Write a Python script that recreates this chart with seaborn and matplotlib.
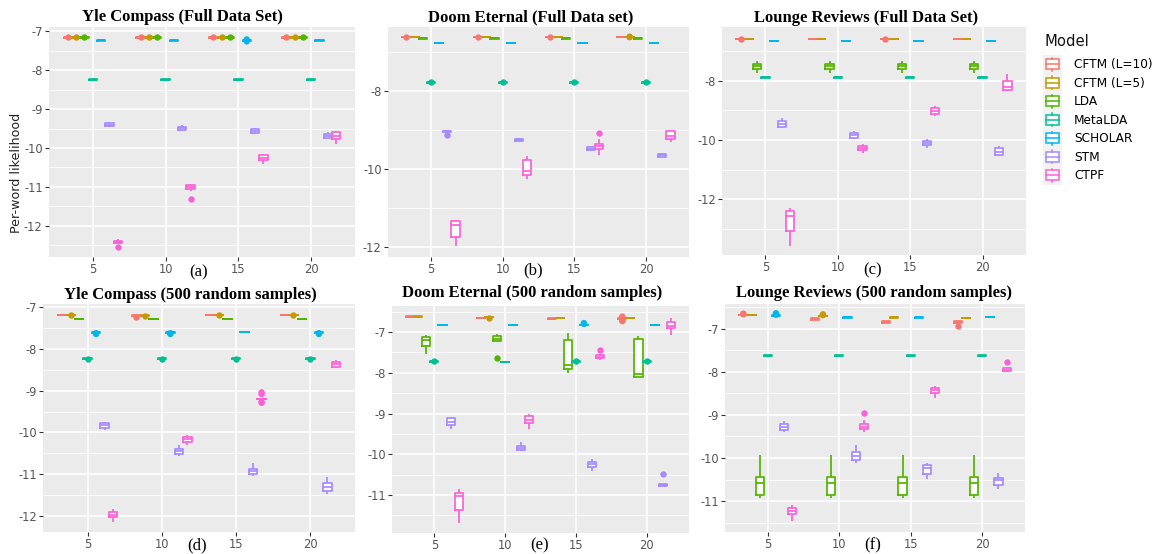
import numpy as np
import pandas as pd
import matplotlib
matplotlib.use("Agg")
import matplotlib.pyplot as plt
import seaborn as sns
from matplotlib.patches import Rectangle, Patch
from matplotlib.lines import Line2D
from matplotlib.legend_handler import HandlerBase
from matplotlib.ticker import FixedLocator, NullLocator

MODELS = ["CFTM (L=10)", "CFTM (L=5)", "LDA", "MetaLDA", "SCHOLAR", "STM", "CTPF"]
COLORS = ["#F8766D", "#C49A00", "#53B400", "#00C094", "#00B6EB", "#A58AFF", "#FB61D7"]
TOPICS = [5, 10, 15, 20]
TITLES = ["Yle Compass (Full Data Set)", "Doom Eternal (Full Data set)", "Lounge Reviews (Full Data Set)",
          "Yle Compass (500 random samples)", "Doom Eternal (500 random samples)", "Lounge Reviews (500 random samples)"]
SUBCAPS = ["(a)", "(b)", "(c)", "(d)", "(e)", "(f)"]
YLABEL = "Per-word likelihood"

# rows: (model index, number of topics, lower whisker, q1, median, q3, upper whisker)
YLE_FULL = [
    (0, 5, -7.165, -7.16, -7.15, -7.14, -7.135), (1, 5, -7.165, -7.16, -7.15, -7.14, -7.135),
    (2, 5, -7.165, -7.16, -7.15, -7.14, -7.135), (3, 5, -8.255, -8.25, -8.24, -8.23, -8.225),
    (4, 5, -7.245, -7.24, -7.23, -7.22, -7.215), (5, 5, -9.46, -9.44, -9.40, -9.36, -9.33),
    (6, 5, -12.46, -12.44, -12.42, -12.38, -12.35),
    (0, 10, -7.165, -7.16, -7.15, -7.14, -7.135), (1, 10, -7.165, -7.16, -7.15, -7.14, -7.135),
    (2, 10, -7.165, -7.16, -7.15, -7.14, -7.135), (3, 10, -8.255, -8.25, -8.24, -8.23, -8.225),
    (4, 10, -7.245, -7.24, -7.23, -7.22, -7.215), (5, 10, -9.55, -9.53, -9.49, -9.45, -9.40),
    (6, 10, -11.11, -11.05, -11.00, -10.96, -10.92),
    (0, 15, -7.165, -7.16, -7.15, -7.14, -7.135), (1, 15, -7.165, -7.16, -7.15, -7.14, -7.135),
    (2, 15, -7.165, -7.16, -7.15, -7.14, -7.135), (3, 15, -8.255, -8.25, -8.24, -8.23, -8.225),
    (4, 15, -7.25, -7.245, -7.235, -7.225, -7.22), (5, 15, -9.63, -9.61, -9.57, -9.52, -9.48),
    (6, 15, -10.42, -10.30, -10.25, -10.19, -10.15),
    (0, 20, -7.165, -7.16, -7.15, -7.14, -7.135), (1, 20, -7.165, -7.16, -7.15, -7.14, -7.135),
    (2, 20, -7.165, -7.16, -7.15, -7.14, -7.135), (3, 20, -8.255, -8.25, -8.24, -8.23, -8.225),
    (4, 20, -7.245, -7.24, -7.23, -7.22, -7.215), (5, 20, -9.74, -9.73, -9.68, -9.63, -9.59),
    (6, 20, -9.89, -9.77, -9.70, -9.60, -9.55),
]
YLE_FULL_OUT = [
    (0, 5, -7.15), (1, 5, -7.15), (2, 5, -7.15), (6, 5, -12.54),
    (0, 10, -7.15), (1, 10, -7.15), (2, 10, -7.15), (6, 10, -11.30),
    (0, 15, -7.15), (1, 15, -7.15), (2, 15, -7.15), (4, 15, -7.26), (4, 15, -7.21),
    (0, 20, -7.15), (1, 20, -7.15), (2, 20, -7.15),
]

DOOM_FULL = [
    (0, 5, -6.63, -6.625, -6.62, -6.615, -6.61), (1, 5, -6.64, -6.635, -6.63, -6.625, -6.62),
    (2, 5, -6.67, -6.665, -6.66, -6.655, -6.65), (3, 5, -7.80, -7.795, -7.79, -7.785, -7.78),
    (4, 5, -6.79, -6.785, -6.78, -6.775, -6.77), (5, 5, -9.06, -9.05, -9.04, -9.03, -9.02),
    (6, 5, -11.97, -11.76, -11.44, -11.35, -11.31),
    (0, 10, -6.63, -6.625, -6.62, -6.615, -6.61), (1, 10, -6.64, -6.635, -6.63, -6.625, -6.62),
    (2, 10, -6.67, -6.665, -6.66, -6.655, -6.65), (3, 10, -7.80, -7.795, -7.79, -7.785, -7.78),
    (4, 10, -6.79, -6.785, -6.78, -6.775, -6.77), (5, 10, -9.29, -9.28, -9.26, -9.24, -9.22),
    (6, 10, -10.26, -10.17, -10.05, -9.78, -9.67),
    (0, 15, -6.63, -6.625, -6.62, -6.615, -6.61), (1, 15, -6.64, -6.635, -6.63, -6.625, -6.62),
    (2, 15, -6.67, -6.665, -6.66, -6.655, -6.65), (3, 15, -7.80, -7.795, -7.79, -7.785, -7.78),
    (4, 15, -6.79, -6.785, -6.78, -6.775, -6.77), (5, 15, -9.54, -9.53, -9.50, -9.45, -9.44),
    (6, 15, -9.64, -9.49, -9.43, -9.36, -9.24),
    (0, 20, -6.63, -6.625, -6.62, -6.615, -6.61), (1, 20, -6.64, -6.635, -6.63, -6.625, -6.62),
    (2, 20, -6.67, -6.665, -6.66, -6.655, -6.65), (3, 20, -7.80, -7.795, -7.79, -7.785, -7.78),
    (4, 20, -6.79, -6.785, -6.78, -6.775, -6.77), (5, 20, -9.71, -9.70, -9.66, -9.62, -9.60),
    (6, 20, -9.32, -9.24, -9.15, -9.04, -9.03),
]
DOOM_FULL_OUT = [
    (0, 5, -6.62), (3, 5, -7.79), (5, 5, -9.13),
    (0, 10, -6.62), (3, 10, -7.79),
    (0, 15, -6.62), (3, 15, -7.79), (6, 15, -9.09),
    (1, 20, -6.62), (1, 20, -6.63), (3, 20, -7.79),
]

LOUNGE_FULL = [
    (0, 5, -6.60, -6.595, -6.59, -6.585, -6.58), (1, 5, -6.61, -6.605, -6.60, -6.595, -6.59),
    (2, 5, -7.74, -7.59, -7.50, -7.43, -7.35), (3, 5, -7.90, -7.895, -7.89, -7.885, -7.88),
    (4, 5, -6.67, -6.665, -6.66, -6.655, -6.65), (5, 5, -9.60, -9.55, -9.45, -9.35, -9.27),
    (6, 5, -13.57, -13.07, -12.55, -12.39, -12.30),
    (0, 10, -6.60, -6.595, -6.59, -6.585, -6.58), (1, 10, -6.61, -6.605, -6.60, -6.595, -6.59),
    (2, 10, -7.74, -7.59, -7.50, -7.43, -7.35), (3, 10, -7.90, -7.895, -7.89, -7.885, -7.88),
    (4, 10, -6.67, -6.665, -6.66, -6.655, -6.65), (5, 10, -9.97, -9.92, -9.83, -9.75, -9.69),
    (6, 10, -10.45, -10.35, -10.28, -10.20, -10.13),
    (0, 15, -6.60, -6.595, -6.59, -6.585, -6.58), (1, 15, -6.61, -6.605, -6.60, -6.595, -6.59),
    (2, 15, -7.74, -7.59, -7.50, -7.43, -7.35), (3, 15, -7.90, -7.895, -7.89, -7.885, -7.88),
    (4, 15, -6.67, -6.665, -6.66, -6.655, -6.65), (5, 15, -10.28, -10.17, -10.11, -10.03, -9.98),
    (6, 15, -9.18, -9.12, -9.01, -8.92, -8.85),
    (0, 20, -6.60, -6.595, -6.59, -6.585, -6.58), (1, 20, -6.61, -6.605, -6.60, -6.595, -6.59),
    (2, 20, -7.74, -7.59, -7.50, -7.43, -7.35), (3, 20, -7.90, -7.895, -7.89, -7.885, -7.88),
    (4, 20, -6.67, -6.665, -6.66, -6.655, -6.65), (5, 20, -10.54, -10.50, -10.39, -10.28, -10.22),
    (6, 20, -8.36, -8.30, -8.21, -8.00, -7.76),
]
LOUNGE_FULL_OUT = [(0, 5, -6.59), (0, 15, -6.59)]

YLE_500 = [
    (0, 5, -7.19, -7.185, -7.18, -7.175, -7.17), (1, 5, -7.19, -7.185, -7.18, -7.175, -7.17),
    (2, 5, -7.29, -7.285, -7.28, -7.275, -7.27), (3, 5, -8.24, -8.235, -8.23, -8.225, -8.22),
    (4, 5, -7.61, -7.605, -7.60, -7.595, -7.59), (5, 5, -9.94, -9.89, -9.83, -9.78, -9.74),
    (6, 5, -12.16, -12.02, -11.98, -11.92, -11.85),
    (0, 10, -7.21, -7.205, -7.20, -7.195, -7.19), (1, 10, -7.21, -7.205, -7.20, -7.195, -7.19),
    (2, 10, -7.29, -7.285, -7.28, -7.275, -7.27), (3, 10, -8.24, -8.235, -8.23, -8.225, -8.22),
    (4, 10, -7.61, -7.605, -7.60, -7.595, -7.59), (5, 10, -10.56, -10.51, -10.44, -10.39, -10.31),
    (6, 10, -10.31, -10.22, -10.17, -10.10, -10.07),
    (0, 15, -7.19, -7.185, -7.18, -7.175, -7.17), (1, 15, -7.19, -7.185, -7.18, -7.175, -7.17),
    (2, 15, -7.29, -7.285, -7.28, -7.275, -7.27), (3, 15, -8.24, -8.235, -8.23, -8.225, -8.22),
    (4, 15, -7.60, -7.595, -7.59, -7.585, -7.58), (5, 15, -11.04, -11.00, -10.92, -10.87, -10.73),
    (6, 15, -9.22, -9.21, -9.20, -9.19, -9.18),
    (0, 20, -7.19, -7.185, -7.18, -7.175, -7.17), (1, 20, -7.19, -7.185, -7.18, -7.175, -7.17),
    (2, 20, -7.29, -7.285, -7.28, -7.275, -7.27), (3, 20, -8.24, -8.235, -8.23, -8.225, -8.22),
    (4, 20, -7.61, -7.605, -7.60, -7.595, -7.59), (5, 20, -11.48, -11.41, -11.31, -11.21, -11.08),
    (6, 20, -8.46, -8.44, -8.36, -8.30, -8.26),
]
YLE_500_OUT = [
    (1, 5, -7.18), (3, 5, -8.23), (4, 5, -7.62), (4, 5, -7.64),
    (0, 10, -7.23), (1, 10, -7.20), (3, 10, -8.23), (4, 10, -7.62), (4, 10, -7.64),
    (1, 15, -7.18), (3, 15, -8.23), (6, 15, -9.04), (6, 15, -9.08), (6, 15, -9.27), (6, 15, -9.29),
    (1, 20, -7.18), (3, 20, -8.23), (4, 20, -7.62), (4, 20, -7.64),
]

DOOM_500 = [
    (0, 5, -6.63, -6.625, -6.62, -6.615, -6.61), (1, 5, -6.63, -6.625, -6.62, -6.615, -6.61),
    (2, 5, -7.54, -7.35, -7.20, -7.13, -7.08), (3, 5, -7.73, -7.725, -7.72, -7.715, -7.71),
    (4, 5, -6.83, -6.825, -6.82, -6.815, -6.81), (5, 5, -9.38, -9.29, -9.20, -9.12, -9.09),
    (6, 5, -11.69, -11.36, -11.02, -10.96, -10.84),
    (0, 10, -6.66, -6.655, -6.65, -6.645, -6.64), (1, 10, -6.64, -6.635, -6.63, -6.625, -6.62),
    (2, 10, -7.24, -7.22, -7.16, -7.09, -7.04), (3, 10, -7.74, -7.735, -7.73, -7.725, -7.72),
    (4, 10, -6.83, -6.825, -6.82, -6.815, -6.81), (5, 10, -9.93, -9.90, -9.84, -9.79, -9.70),
    (6, 10, -9.37, -9.24, -9.16, -9.07, -9.01),
    (0, 15, -6.68, -6.675, -6.67, -6.665, -6.66), (1, 15, -6.67, -6.665, -6.66, -6.655, -6.65),
    (2, 15, -8.00, -7.90, -7.81, -7.20, -7.03), (3, 15, -7.73, -7.725, -7.72, -7.715, -7.71),
    (4, 15, -6.83, -6.825, -6.82, -6.815, -6.81), (5, 15, -10.40, -10.31, -10.24, -10.18, -10.12),
    (6, 15, -7.68, -7.64, -7.60, -7.56, -7.54),
    (0, 20, -6.68, -6.675, -6.67, -6.665, -6.66), (1, 20, -6.67, -6.665, -6.66, -6.655, -6.65),
    (2, 20, -8.10, -8.09, -8.03, -7.17, -7.10), (3, 20, -7.73, -7.725, -7.72, -7.715, -7.71),
    (4, 20, -6.83, -6.825, -6.82, -6.815, -6.81), (5, 20, -10.78, -10.77, -10.75, -10.73, -10.72),
    (6, 20, -7.06, -6.91, -6.84, -6.76, -6.65),
]
DOOM_500_OUT = [
    (3, 5, -7.72),
    (1, 10, -6.66), (2, 10, -7.64),
    (3, 15, -7.72), (4, 15, -6.80), (4, 15, -6.78), (6, 15, -7.43),
    (0, 20, -6.62), (0, 20, -6.64), (0, 20, -6.71), (0, 20, -6.73), (3, 20, -7.72), (5, 20, -10.49),
]

LOUNGE_500 = [
    (0, 5, -6.69, -6.685, -6.68, -6.675, -6.67), (1, 5, -6.68, -6.675, -6.67, -6.665, -6.66),
    (2, 5, -10.93, -10.87, -10.59, -10.44, -9.93), (3, 5, -7.63, -7.625, -7.62, -7.615, -7.61),
    (4, 5, -6.70, -6.695, -6.69, -6.685, -6.68), (5, 5, -9.40, -9.35, -9.27, -9.21, -9.13),
    (6, 5, -11.46, -11.31, -11.23, -11.16, -11.10),
    (0, 10, -6.79, -6.785, -6.77, -6.755, -6.75), (1, 10, -6.71, -6.705, -6.70, -6.695, -6.69),
    (2, 10, -10.93, -10.87, -10.59, -10.44, -9.93), (3, 10, -7.63, -7.625, -7.62, -7.615, -7.61),
    (4, 10, -6.74, -6.735, -6.73, -6.725, -6.72), (5, 10, -10.11, -10.05, -9.95, -9.87, -9.70),
    (6, 10, -9.39, -9.33, -9.27, -9.22, -9.12),
    (0, 15, -6.86, -6.855, -6.84, -6.825, -6.82), (1, 15, -6.74, -6.735, -6.73, -6.725, -6.72),
    (2, 15, -10.93, -10.87, -10.59, -10.44, -9.93), (3, 15, -7.63, -7.625, -7.62, -7.615, -7.61),
    (4, 15, -6.74, -6.735, -6.73, -6.725, -6.72), (5, 15, -10.49, -10.38, -10.24, -10.17, -10.11),
    (6, 15, -8.60, -8.49, -8.43, -8.38, -8.32),
    (0, 20, -6.86, -6.855, -6.84, -6.825, -6.82), (1, 20, -6.75, -6.745, -6.74, -6.735, -6.73),
    (2, 20, -10.93, -10.87, -10.59, -10.44, -9.93), (3, 20, -7.63, -7.625, -7.62, -7.615, -7.61),
    (4, 20, -6.73, -6.725, -6.72, -6.715, -6.71), (5, 20, -10.71, -10.62, -10.52, -10.46, -10.34),
    (6, 20, -7.99, -7.985, -7.95, -7.915, -7.91),
]
LOUNGE_500_OUT = [
    (0, 5, -6.66), (0, 5, -6.645), (4, 5, -6.67), (4, 5, -6.65), (4, 5, -6.635),
    (1, 10, -6.68), (1, 10, -6.66), (6, 10, -8.96),
    (0, 20, -6.94), (6, 20, -7.77),
]

PANEL_ROWS = [YLE_FULL, DOOM_FULL, LOUNGE_FULL, YLE_500, DOOM_500, LOUNGE_500]
PANEL_OUTS = [YLE_FULL_OUT, DOOM_FULL_OUT, LOUNGE_FULL_OUT, YLE_500_OUT, DOOM_500_OUT, LOUNGE_500_OUT]
YLIMS = [(-12.8, -6.89), (-12.26, -6.37), (-13.88, -6.19), (-12.39, -6.92), (-11.93, -6.36), (-11.72, -6.42)]
YMAJOR = [[-12, -11, -10, -9, -8, -7], [-12, -10, -8], [-12, -10, -8],
          [-12, -11, -10, -9, -8, -7], [-11, -10, -9, -8, -7], [-11, -10, -9, -8, -7]]
YMINOR = [[-12.5, -11.5, -10.5, -9.5, -8.5, -7.5], [-11, -9, -7], [-13, -11, -9, -7],
          [-11.5, -10.5, -9.5, -8.5, -7.5], [-11.5, -10.5, -9.5, -8.5, -7.5, -6.5],
          [-11.5, -10.5, -9.5, -8.5, -7.5, -6.5]]

W, H = 1153, 554
# panel boxes in pixels: left, top, right, bottom
PANEL_PX = [(49, 27, 355, 257), (388, 27, 689, 257), (722, 27, 1026, 255),
            (43, 304, 355, 532), (392, 306, 689, 533), (725, 304, 1025, 532)]
TITLE_PX = [(182, 17), (531, 17), (866, 18), (190, 295), (532, 293), (874, 293)]
SUBCAP_PX = [(199, 272), (533, 270), (873, 270), (197, 545), (540, 545), (873, 545)]

plt.rcParams["axes.unicode_minus"] = False
plt.rcParams["font.family"] = ["DejaVu Sans"]

fig = plt.figure(figsize=(W / 100, H / 100), dpi=100, facecolor="white")


def box_frame(rows):
    recs = []
    for m, k, *vals in rows:
        for v in vals:
            recs.append((MODELS[m], k, v))
    return pd.DataFrame(recs, columns=["Model", "K", "value"])


def out_frame(rows):
    recs = [(MODELS[m], k, v) for m, k, v in rows]
    recs += [(MODELS[0], k, np.nan) for k in TOPICS]
    return pd.DataFrame(recs, columns=["Model", "K", "value"])


for i in range(6):
    l, t, r, b = PANEL_PX[i]
    ax = fig.add_axes([l / W, 1 - b / H, (r - l) / W, (b - t) / H])
    ax.set_facecolor("#EBEBEB")
    sns.boxplot(data=box_frame(PANEL_ROWS[i]), x="K", y="value", hue="Model", hue_order=MODELS,
                palette=COLORS, native_scale=True, fill=False, width=0.8, gap=0, whis=np.inf,
                linewidth=1.25, legend=False, ax=ax, capprops={"visible": False})
    for ln in list(ax.lines):
        xd, yd = np.asarray(ln.get_xdata()), np.asarray(ln.get_ydata())
        if len(xd) == 5 and ln.get_linestyle() not in ("None", "", " "):
            ax.fill(xd, yd, facecolor="white", edgecolor="none", zorder=1.5)
    sns.stripplot(data=out_frame(PANEL_OUTS[i]), x="K", y="value", hue="Model", hue_order=MODELS,
                  palette=COLORS, native_scale=True, dodge=True, jitter=False, size=4.6,
                  linewidth=0, legend=False, ax=ax, zorder=3)
    ax.set_xlim(2.0, 23.0)
    ax.set_ylim(*YLIMS[i])
    ax.set_xticks(TOPICS)
    ax.xaxis.set_minor_locator(NullLocator())
    ax.yaxis.set_major_locator(FixedLocator(YMAJOR[i]))
    ax.yaxis.set_minor_locator(FixedLocator(YMINOR[i]))
    ax.set_xlabel("")
    ax.set_ylabel("")
    for s in ax.spines.values():
        s.set_visible(False)
    ax.set_axisbelow(True)
    ax.grid(which="major", color="white", linewidth=1.1)
    ax.grid(which="minor", axis="y", color="white", linewidth=0.55)
    ax.tick_params(which="major", length=3, width=0.8, color="#333333", labelcolor="#555555",
                   labelsize=8.3, pad=1.5)
    ax.tick_params(which="minor", length=0)
    fig.text(TITLE_PX[i][0] / W, 1 - TITLE_PX[i][1] / H, TITLES[i], ha="center", va="center",
             fontsize=12, fontweight="bold", family="Liberation Serif")
    fig.text(SUBCAP_PX[i][0] / W, 1 - SUBCAP_PX[i][1] / H, SUBCAPS[i], ha="center", va="center",
             fontsize=12, family="Liberation Serif")

fig.text(17 / W, 1 - 173 / H, YLABEL, rotation=90, ha="center", va="center", fontsize=9.1, color="#222222")


class BoxKey(HandlerBase):
    def create_artists(self, legend, orig_handle, xdescent, ydescent, width, height, fontsize, trans):
        c = orig_handle.get_edgecolor()
        x0, y0 = -xdescent, -ydescent
        cx = x0 + width / 2
        bg = Rectangle((x0, y0), width, height, facecolor="#F2F2F2", edgecolor="none", transform=trans)
        bh = height * 0.55
        by = y0 + (height - bh) / 2
        bw = width * 0.72
        box = Rectangle((cx - bw / 2, by), bw, bh, facecolor="white", edgecolor=c, linewidth=1.1,
                        transform=trans)
        med = Line2D([cx - bw / 2, cx + bw / 2], [y0 + height / 2] * 2, color=c, lw=1.1, transform=trans)
        w1 = Line2D([cx, cx], [y0 + 2, by], color=c, lw=1.1, transform=trans)
        w2 = Line2D([cx, cx], [by + bh, y0 + height - 2], color=c, lw=1.1, transform=trans)
        return [bg, box, med, w1, w2]


handles = [Patch(facecolor="white", edgecolor=c) for c in COLORS]
fig.legend(handles=handles, labels=MODELS, handler_map={Patch: BoxKey()}, loc="upper left",
           bbox_to_anchor=(1043 / W, 1 - 55 / H), frameon=False, fontsize=8.7, handlelength=1.57,
           handleheight=1.98, labelspacing=0, handletextpad=1.0, borderpad=0, borderaxespad=0)
fig.text(1044 / W, 1 - 42 / H, "Model", ha="left", va="center", fontsize=10.6, color="#111111")

fig.savefig("out.png", dpi=100, facecolor="white")
